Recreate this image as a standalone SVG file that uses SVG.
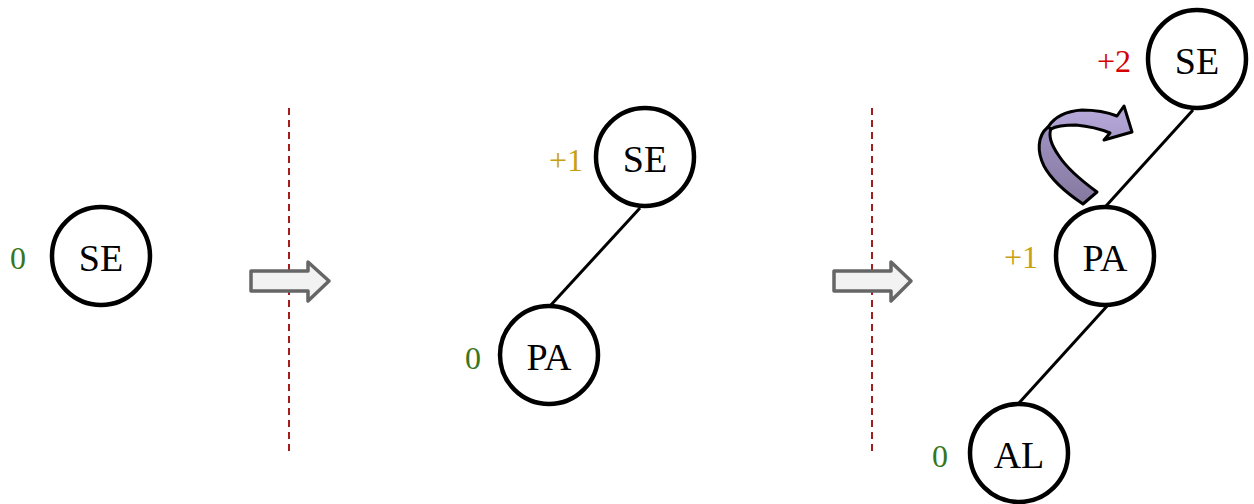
<svg xmlns="http://www.w3.org/2000/svg" width="1254" height="504" viewBox="0 0 1254 504">
<style>
.node circle{fill:#fff;stroke:#000;stroke-width:4.5}
.node text{font-family:"Liberation Serif","Times New Roman",serif;font-size:38px;fill:#000;text-anchor:middle}
.bf{font-family:"Liberation Serif","Times New Roman",serif;font-size:32px;text-anchor:end}
.g{fill:#38761d}.y{fill:#c9a011}.r{fill:#d50000}
.edge{stroke:#000;stroke-width:3;fill:none}
.sep{stroke:#a61c1c;stroke-width:2;stroke-dasharray:7 5;fill:none}
.step{fill:#f2f2f2;stroke:#666;stroke-width:3.5;stroke-linejoin:round}
</style>
<defs>
<linearGradient id="gl" x1="0" y1="0" x2="0" y2="1">
<stop offset="0" stop-color="#b8abdc"/><stop offset="1" stop-color="#a89bcc"/>
</linearGradient>
<linearGradient id="gd" x1="0" y1="0" x2="0" y2="1">
<stop offset="0" stop-color="#9f92c2"/><stop offset="1" stop-color="#86799f"/>
</linearGradient>
</defs>

<g id="separators">
<line class="sep" x1="289" y1="108" x2="289" y2="452"/>
<line class="sep" x1="872" y1="108" x2="872" y2="452"/>
</g>

<g id="step-arrows">
<path class="step" d="M251,271 H308 V262 L329,281 L308,301 V291 H251 Z"/>
<path class="step" d="M834,271 H891 V262 L911,281 L891,301 V291 H834 Z"/>
</g>

<g id="connectors">
<line class="edge" x1="550" y1="306" x2="640" y2="208"/>
<line class="edge" x1="1193" y1="110" x2="1106" y2="206"/>
<line class="edge" x1="1108" y1="305" x2="1019" y2="403"/>
</g>

<g id="rotation-arrow" stroke="#000" stroke-width="3" stroke-linejoin="round">
<path fill="url(#gd)" d="M1048,127 C1037,136 1037,152 1044,166 C1052,181 1068,194 1083,204 L1097,192 C1082,181 1068,170 1059,156 C1052,146 1048,136 1051,129 Z"/>
<path fill="url(#gl)" d="M1048,127 C1055,116 1068,111 1082,110 C1095,110 1107,112 1117,116 L1124,106 L1132,132 L1104,140 L1110,133 C1098,128 1087,126 1076,125 C1066,125 1056,126 1051,129 Z"/>
</g>

<g id="n1-SE" class="node">
<circle cx="101" cy="256" r="49"/>
<text x="101" y="271">SE</text>
</g>
<text class="bf g" x="26" y="269">0</text>

<g id="n2-SE" class="node">
<circle cx="645" cy="157" r="49"/>
<text x="645" y="172">SE</text>
</g>
<text class="bf y" x="583" y="171">+1</text>

<g id="n2-PA" class="node">
<circle cx="549" cy="355" r="49"/>
<text x="549" y="370">PA</text>
</g>
<text class="bf g" x="481" y="369">0</text>

<g id="n3-SE" class="node">
<circle cx="1197" cy="59" r="49"/>
<text x="1197" y="74">SE</text>
</g>
<text class="bf r" x="1131" y="72">+2</text>

<g id="n3-PA" class="node">
<circle cx="1105" cy="256" r="49"/>
<text x="1105" y="271">PA</text>
</g>
<text class="bf y" x="1038" y="268">+1</text>

<g id="n3-AL" class="node">
<circle cx="1019" cy="453" r="49"/>
<text x="1019" y="468">AL</text>
</g>
<text class="bf g" x="948" y="467">0</text>
</svg>
